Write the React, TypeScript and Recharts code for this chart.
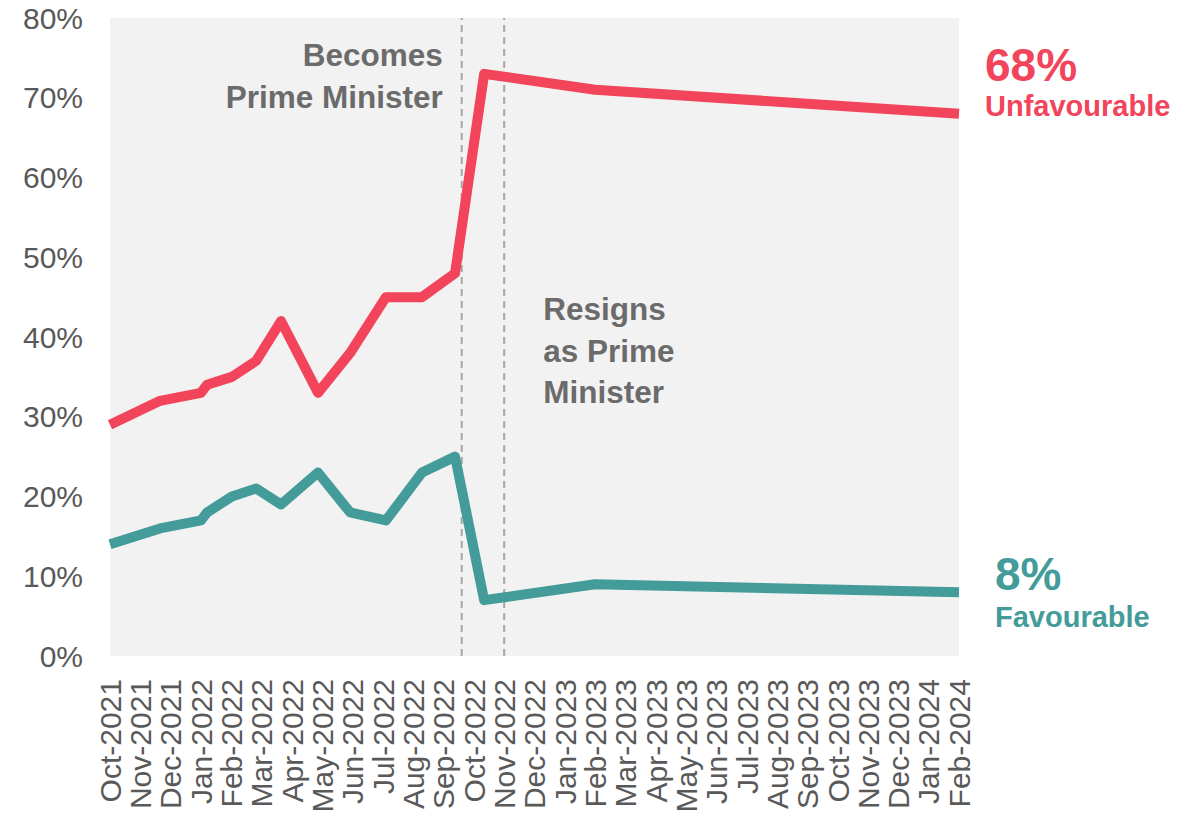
import { LineChart, Line, XAxis, YAxis, CartesianGrid, ReferenceLine } from 'recharts';

// month labels along the x axis (one tick per month)
const months = [
  'Oct-2021', 'Nov-2021', 'Dec-2021', 'Jan-2022', 'Feb-2022', 'Mar-2022', 'Apr-2022',
  'May-2022', 'Jun-2022', 'Jul-2022', 'Aug-2022', 'Sep-2022', 'Oct-2022', 'Nov-2022',
  'Dec-2022', 'Jan-2023', 'Feb-2023', 'Mar-2023', 'Apr-2023', 'May-2023', 'Jun-2023',
  'Jul-2023', 'Aug-2023', 'Sep-2023', 'Oct-2023', 'Nov-2023', 'Dec-2023', 'Jan-2024',
  'Feb-2024',
];

// survey dates, as a month offset from Oct-2021
const surveyTimes = [0, 1.65, 3.0, 3.2, 4.02, 4.82, 5.64, 6.86, 7.92, 9.1, 10.29, 11.38, 12.34, 16.0, 28];
const unfavourable = [29, 32, 33, 34, 35, 37, 42, 33, 38, 45, 45, 48, 73, 71, 68];
const favourable = [14, 16, 17, 18, 20, 21, 19, 23, 18, 17, 23, 25, 7, 9, 8];

const yTicks = [0, 10, 20, 30, 40, 50, 60, 70, 80];
const becomesPM = 11.6;
const resignsPM = 13.0;

const RED = '#f2445a';
const TEAL = '#449c9a';
const GREY_TEXT = '#6b6b6b';
const FONT = "'Liberation Sans', Arial, sans-serif";

const data = surveyTimes.map((t, i) => ({ t, unfav: unfavourable[i], fav: favourable[i] }));
const xTicks = months.map((_, i) => i);

const MonthTick = ({ x, y, payload }: any) => (
  <g transform={`translate(${x},${y})`}>
    <text
      transform="rotate(-90)"
      textAnchor="end"
      dy="0.36em"
      fontSize={30}
      fontFamily={FONT}
      fill="#595959"
    >
      {months[payload.value]}
    </text>
  </g>
);

const endLabel = (color: string, name: string, dx: number, dyValue: number, dyName: number) =>
  (props: any) => {
    const { x, y, value, index } = props;
    if (index !== data.length - 1) return null;
    return (
      <g fontFamily={FONT} fontWeight="bold" fill={color}>
        <text x={x + dx} y={y + dyValue} fontSize={46}>{`${value}%`}</text>
        <text x={x + dx} y={y + dyName} fontSize={29}>{name}</text>
      </g>
    );
  };

const BecomesLabel = ({ viewBox }: any) => (
  <text textAnchor="end" fontFamily={FONT} fontWeight="bold" fontSize={31.5} fill={GREY_TEXT}>
    <tspan x={viewBox.x - 19} y={viewBox.y + 48}>Becomes</tspan>
    <tspan x={viewBox.x - 19} y={viewBox.y + 90}>Prime Minister</tspan>
  </text>
);

const ResignsLabel = ({ viewBox }: any) => (
  <text textAnchor="start" fontFamily={FONT} fontWeight="bold" fontSize={31.5} fill={GREY_TEXT}>
    <tspan x={viewBox.x + 39} y={viewBox.y + 302}>Resigns</tspan>
    <tspan x={viewBox.x + 39} y={viewBox.y + 344}>as Prime</tspan>
    <tspan x={viewBox.x + 39} y={viewBox.y + 385}>Minister</tspan>
  </text>
);

const App = () => {
  return (
    <div style={{ position: 'absolute', left: 0, top: 0, background: '#fff' }}>
      <LineChart width={1196} height={816} data={data} margin={{ top: 18, right: 237, bottom: 0, left: 0 }}>
        <CartesianGrid horizontal={false} vertical={false} fill="#f2f2f2" />
        <XAxis
          dataKey="t"
          type="number"
          domain={[0, 28]}
          ticks={xTicks}
          interval={0}
          axisLine={false}
          tickLine={false}
          tickSize={0}
          tickMargin={23}
          height={160}
          tick={<MonthTick />}
        />
        <YAxis
          domain={[0, 80]}
          ticks={yTicks}
          interval={0}
          axisLine={false}
          tickLine={false}
          tickSize={0}
          tickMargin={27}
          width={110}
          tickFormatter={(v) => `${v}%`}
          tick={{ fontSize: 30, fill: '#595959', fontFamily: FONT }}
        />
        <ReferenceLine x={becomesPM} stroke="#a6a6a6" strokeWidth={2} strokeDasharray="7 5" label={<BecomesLabel />} />
        <ReferenceLine x={resignsPM} stroke="#a6a6a6" strokeWidth={2} strokeDasharray="7 5" label={<ResignsLabel />} />
        <Line
          dataKey="unfav"
          stroke={RED}
          strokeWidth={10}
          strokeLinejoin="round"
          dot={false}
          activeDot={false}
          isAnimationActive={false}
          label={endLabel(RED, 'Unfavourable', 26, -33, 2)}
        />
        <Line
          dataKey="fav"
          stroke={TEAL}
          strokeWidth={10}
          strokeLinejoin="round"
          dot={false}
          activeDot={false}
          isAnimationActive={false}
          label={endLabel(TEAL, 'Favourable', 36, -2, 35)}
        />
      </LineChart>
    </div>
  );
};

export default App;
